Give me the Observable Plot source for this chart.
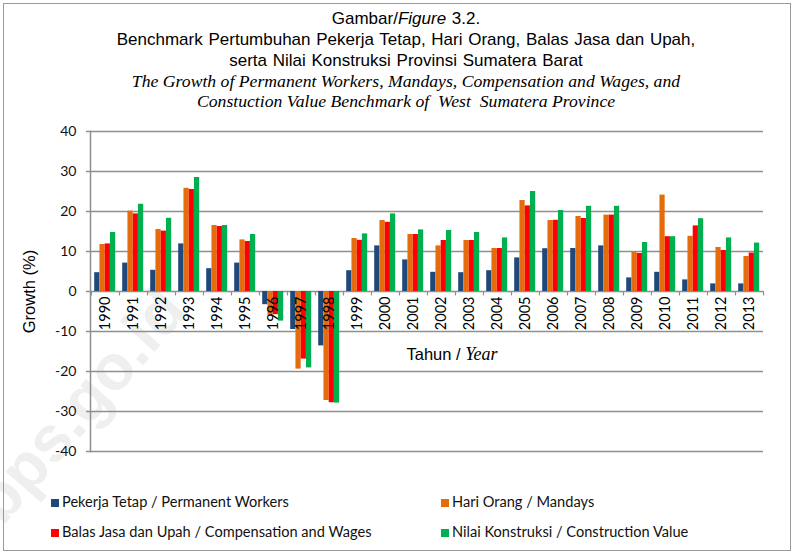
<!DOCTYPE html>
<html>
<head>
<meta charset="utf-8">
<script src="https://cdn.jsdelivr.net/npm/d3@7"></script>
<script src="https://cdn.jsdelivr.net/npm/@observablehq/plot@0.6"></script>
<style>
  html, body { margin: 0; padding: 0; background: #fff; }
  #page { position: relative; width: 796px; height: 553px; overflow: hidden; background: #fff; }
  #border { position: absolute; left: 3px; top: 3px; width: 786px; height: 546px; border: 1.5px solid #9a9a9a; box-sizing: content-box; }
  #title { position: absolute; left: 0; top: 8px; width: 812px; text-align: center; color: #000; }
  #title .sans { font-family: "Liberation Sans", Arial, sans-serif; font-size: 17px; line-height: 21px; word-spacing: 1px; }
  #title .serif { font-family: "Liberation Serif", "Times New Roman", serif; font-style: italic; font-size: 17.7px; line-height: 20px; }
  #chart { position: absolute; left: 0; top: 0; }
  #xlabel { position: absolute; left: 352px; width: 200px; top: 344px; text-align: center; font-family: "Liberation Sans", Arial, sans-serif; font-size: 16.5px; }
  #xlabel i { font-family: "Liberation Serif", serif; font-size: 18px; }
  .leg { position: absolute; font-family: Lato, "Noto Sans", sans-serif; font-size: 14.6px; color: #111; white-space: nowrap; line-height: 16px; }
  .leg span.sw { display: inline-block; width: 8px; height: 8px; margin-right: 3px; vertical-align: 0px; }
  #wm { position: absolute; left: -42px; top: 488px; font-family: "Liberation Sans", Arial, sans-serif; font-weight: bold; font-size: 64px; color: #efefef; transform: rotate(-49deg); transform-origin: left top; white-space: nowrap; }
</style>
</head>
<body>
<div id="page">
  <div id="wm">bps.go.id</div>
  <div id="chart"></div>
  <div id="border"></div>
  <div id="title">
    <div class="sans">Gambar/<i>Figure</i> 3.2.</div>
    <div class="sans">Benchmark Pertumbuhan Pekerja Tetap, Hari Orang, Balas Jasa dan Upah,</div>
    <div class="sans">serta Nilai Konstruksi Provinsi Sumatera Barat</div>
    <div class="serif">The Growth of Permanent Workers, Mandays, Compensation and Wages, and</div>
    <div class="serif">Constuction Value Benchmark of&nbsp; West&nbsp; Sumatera Province</div>
  </div>
  <div id="xlabel">Tahun / <i>Year</i></div>
  <div id="legend"></div>
</div>
<script>
const years = ["1990","1991","1992","1993","1994","1995","1996","1997","1998","1999","2000","2001","2002","2003","2004","2005","2006","2007","2008","2009","2010","2011","2012","2013"];
const yTicks = [-40, -30, -20, -10, 0, 10, 20, 30, 40];
const seriesNames = [
  "Pekerja Tetap / Permanent Workers",
  "Hari Orang / Mandays",
  "Balas Jasa dan Upah / Compensation and Wages",
  "Nilai Konstruksi / Construction Value"
];
const seriesColors = ["#1f497d", "#e46c0a", "#ff0000", "#00b050"];
const permanentWorkers = [4.7, 7.1, 5.3, 11.9, 5.7, 7.1, -3.3, -9.5, -13.6, 5.2, 11.4, 7.9, 4.8, 4.7, 5.2, 8.4, 10.7, 10.75, 11.4, 3.4, 4.8, 2.9, 1.9, 1.9];
const mandays = [11.75, 20.1, 15.5, 25.8, 16.5, 12.9, -6.2, -19.4, -27.25, 13.25, 17.75, 14.25, 11.4, 12.75, 10.75, 22.75, 17.75, 18.75, 19.1, 9.8, 24.1, 13.8, 11.0, 8.75];
const wages = [11.9, 19.4, 15.1, 25.5, 16.25, 12.5, -5.8, -16.9, -27.8, 12.8, 17.3, 14.25, 12.75, 12.75, 10.75, 21.4, 17.8, 18.25, 19.1, 9.5, 13.7, 16.4, 10.25, 9.6];
const construction = [14.75, 21.8, 18.3, 28.5, 16.5, 14.25, -7.4, -19.1, -27.9, 14.4, 19.4, 15.4, 15.25, 14.75, 13.4, 25.0, 20.25, 21.3, 21.3, 12.25, 13.7, 18.2, 13.4, 12.1];

const seriesValues = [permanentWorkers, mandays, wages, construction];

const W = 796, H = 470;
const mL = 90, mR = 33, mT = 131, mB = 19;
const band = (W - mL - mR) / years.length;
const lead = 3.2, barW = 5.25;
const gray = "#8f8f8f";

const barMarks = seriesValues.map((vals, i) => {
  const data = years.map((y, j) => ({year: y, value: vals[j]}));
  return Plot.barY(data, {
    x: "year", y: "value", fill: seriesColors[i],
    insetLeft: lead + barW * i,
    insetRight: band - lead - barW * (i + 1)
  });
});

const chart = Plot.plot({
  width: W, height: H,
  marginLeft: mL, marginRight: mR, marginTop: mT, marginBottom: mB,
  style: {background: "transparent", overflow: "visible"},
  x: {type: "band", domain: years, padding: 0, axis: null},
  y: {domain: [-40, 40], axis: null},
  marks: [
    Plot.gridY(yTicks, {stroke: gray, strokeOpacity: 1, strokeWidth: 1.5}),
    Plot.axisY(yTicks, {tickSize: 4, tickPadding: 10, stroke: gray, strokeWidth: 1.5, fontSize: 14, fontFamily: "Lato, 'Noto Sans', sans-serif", fill: "#111", label: null, tickFormat: d => String(d)}),
    Plot.axisY([], {label: "Growth (%)", labelAnchor: "center", labelOffset: 67, labelArrow: "none", fontSize: 16.5, fontFamily: "'Liberation Sans', Arial, sans-serif", fill: "#000", tickSize: 0}),
    Plot.frame({anchor: "left", stroke: gray, strokeWidth: 1.5}),
    ...barMarks,
    Plot.ruleX(years, {x: d => d, y1: 0, y2: -1.1, dx: -band / 2, stroke: gray, strokeWidth: 1.2}),
    Plot.ruleX(years.slice(-1), {x: d => d, y1: 0, y2: -1.1, dx: band / 2, stroke: gray, strokeWidth: 1.2}),
    Plot.text(years, {x: d => d, y: () => 0, text: d => d, rotate: -90, textAnchor: "end", dy: 5, fontSize: 14.5, fontFamily: "Lato, 'Noto Sans', sans-serif", fill: "#000"})
  ]
});
document.getElementById("chart").appendChild(chart);

// legend
const legPos = [[51, 494], [441, 494], [51, 524], [441, 524]];
const legend = document.getElementById("legend");
seriesNames.forEach((name, i) => {
  const d = document.createElement("div");
  d.className = "leg";
  d.style.left = legPos[i][0] + "px";
  d.style.top = legPos[i][1] + "px";
  d.innerHTML = `<span class="sw" style="background:${seriesColors[i]}"></span>${name}`;
  legend.appendChild(d);
});
</script>
</body>
</html>
